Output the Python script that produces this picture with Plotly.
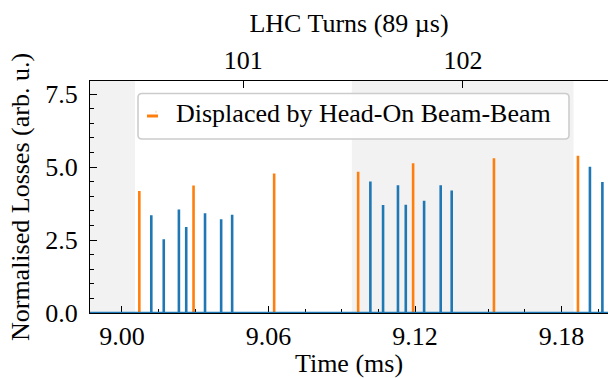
import plotly.graph_objects as go

# ---- data ----
blue_t = [9.0120, 9.0171, 9.0233, 9.0263, 9.0340, 9.0406, 9.0451,
          9.1017, 9.1069, 9.1130, 9.1162, 9.1237, 9.1305, 9.1350,
          9.1916, 9.1967]
blue_v = [3.35, 2.53, 3.55, 2.95, 3.42, 3.21, 3.37,
          4.51, 3.70, 4.38, 3.71, 3.85, 4.38, 4.20,
          5.01, 4.49]
orange_t = [9.0071, 9.0293, 9.0623, 9.0967, 9.1192, 9.1523, 9.1867]
orange_v = [4.18, 4.37, 4.78, 4.84, 5.13, 5.30, 5.39]

turn_edges = [8.9162, 9.0053, 9.0941, 9.1849]   # boundaries of turns 100..102
shaded_turns = [(0, 1), (2, 3)]                  # index pairs into turn_edges
turn_ticks = [9.0496, 9.1396]
turn_labels = ["101", "102"]

x_range = [8.9869, 9.1990]
y_range = [0, 7.95]
x_ticks = [9.00, 9.06, 9.12, 9.18]
y_ticks = [0.0, 2.5, 5.0, 7.5]

BLUE = "#1f77b4"
ORANGE = "#ff7f0e"
FONT = "Liberation Serif, Times New Roman, serif"
FS = 26

W, H = 608, 378
ML, MR, MT, MB = 90, 0, 81, 65
PW, PH = W - ML - MR, H - MT - MB


def spikes(ts, vs, baseline=False):
    xs, ys = [], []
    if baseline:
        xs.append(x_range[0] - 0.01); ys.append(0)
    for t, v in zip(ts, vs):
        xs += [t, t, t]
        ys += [0, v, 0]
        if not baseline:
            xs.append(None); ys.append(None)
    if baseline:
        xs.append(x_range[1] + 0.01); ys.append(0)
    return xs, ys


def px2paper(px, py):
    return (px - ML) / PW, (H - MB - py) / PH


def rounded_box(x0p, y0p, x1p, y1p, r):
    # pixel box -> paper path with rounded corners
    rx, ry = r / PW, r / PH
    a, top = px2paper(x0p, y0p)
    b, bot = px2paper(x1p, y1p)
    return (f"M{a+rx},{top} L{b-rx},{top} Q{b},{top} {b},{top-ry} "
            f"L{b},{bot+ry} Q{b},{bot} {b-rx},{bot} "
            f"L{a+rx},{bot} Q{a},{bot} {a},{bot+ry} "
            f"L{a},{top-ry} Q{a},{top} {a+rx},{top} Z")


fig = go.Figure()

ox, oy = spikes(orange_t, orange_v)
fig.add_trace(go.Scatter(x=ox, y=oy, mode="lines",
                         line=dict(color=ORANGE, width=2.6),
                         showlegend=False, hoverinfo="skip"))
bx, by = spikes(blue_t, blue_v, baseline=True)
fig.add_trace(go.Scatter(x=bx, y=by, mode="lines",
                         line=dict(color=BLUE, width=2.6),
                         showlegend=False, hoverinfo="skip"))
# legend entry (symbol hidden; short dash drawn as a shape)
fig.add_trace(go.Scatter(x=[None], y=[None], mode="markers", xaxis="x2",
                         name="Displaced by Head-On Beam-Beam",
                         marker=dict(symbol="square", size=1, opacity=0,
                                     color=ORANGE)))

for a, b in shaded_turns:
    fig.add_shape(type="rect", xref="x", yref="paper",
                  x0=turn_edges[a], x1=turn_edges[b], y0=0, y1=1,
                  fillcolor="#f2f2f2", line=dict(width=0), layer="below")

# legend frame (rounded, matplotlib-like)
fig.add_shape(type="path", xref="paper", yref="paper",
              path=rounded_box(138, 93.5, 569, 139, 4),
              fillcolor="rgba(255,255,255,0.9)",
              line=dict(color="#cccccc", width=1.6), layer="above")
# short legend dash
dx0, dy = px2paper(147, 116)
dx1, _ = px2paper(158, 116)
fig.add_shape(type="line", xref="paper", yref="paper",
              x0=dx0, x1=dx1, y0=dy, y1=dy,
              line=dict(color=ORANGE, width=3), layer="above")

axis_common = dict(showgrid=False, zeroline=False, showline=True,
                   linecolor="black", linewidth=1.3,
                   ticks="inside", tickcolor="black", tickwidth=1.3,
                   tickfont=dict(family=FONT, size=FS, color="black"))

lx, ly = px2paper(136, 93)

fig.update_layout(
    width=W, height=H,
    margin=dict(l=ML, r=MR, t=MT, b=MB),
    paper_bgcolor="white", plot_bgcolor="white",
    font=dict(family=FONT, size=FS, color="black"),
    xaxis=dict(range=x_range, tickvals=x_ticks, tickformat=".2f",
               ticklen=7, layer="below traces",
               minor=dict(dtick=0.015, tick0=9.0, ticks="inside",
                          ticklen=3.5, tickcolor="black", tickwidth=1.2),
               title=dict(text="Time (ms)", standoff=4,
                          font=dict(family=FONT, size=FS)),
               **axis_common),
    xaxis2=dict(range=x_range, overlaying="x", side="top", anchor="y",
                tickvals=turn_ticks, ticktext=turn_labels, ticklen=7,
                title=dict(text="LHC Turns (89 µs)", standoff=6,
                           font=dict(family=FONT, size=FS)),
                **axis_common),
    yaxis=dict(range=y_range, tickvals=y_ticks, tickformat=".1f",
               ticklen=7, ticklabelstandoff=6,
               minor=dict(dtick=0.5, ticks="inside", ticklen=3.5,
                          tickcolor="black", tickwidth=1.2),
               title=dict(text="Normalised Losses (arb. u.)", standoff=8,
                          font=dict(family=FONT, size=FS)),
               **axis_common),
    legend=dict(x=lx, y=ly + 0.02, xanchor="left", yanchor="top",
                bgcolor="rgba(0,0,0,0)", borderwidth=0,
                font=dict(family=FONT, size=FS), itemwidth=30),
    showlegend=True,
)

fig.write_html("out.html")
